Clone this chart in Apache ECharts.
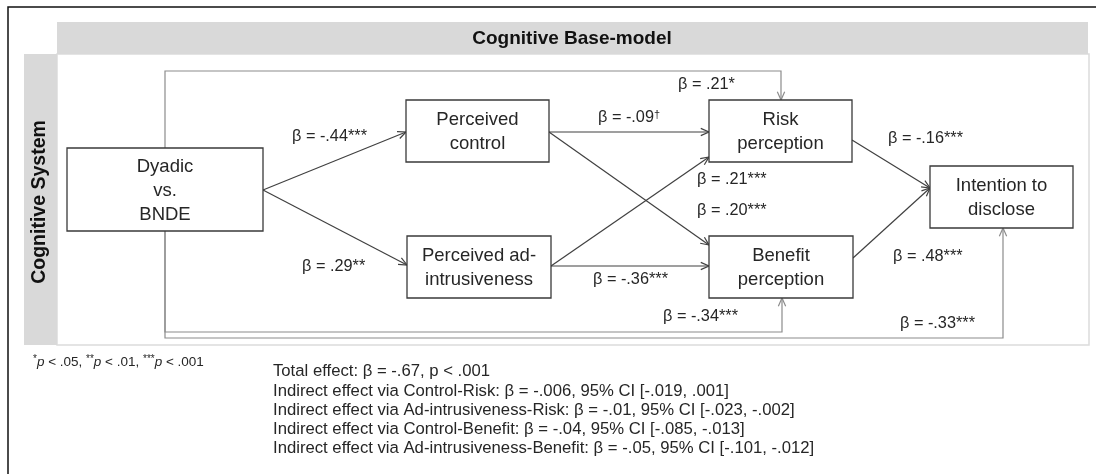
<!DOCTYPE html>
<html lang="en">
<head>
<meta charset="UTF-8">
<title>Cognitive Base-model</title>
<script src="https://cdn.jsdelivr.net/npm/echarts@6/dist/echarts.min.js"></script>
<style>
    html, body { margin: 0; padding: 0; background: #fff; }
    #main { width: 1096px; height: 474px; }
</style>
</head>
<body>
<div id="main"></div>
<script type="text/javascript">
    // node texts
    var nodeNames = ['Dyadic\nvs.\nBNDE', 'Perceived\ncontrol', 'Perceived ad-\nintrusiveness',
        'Risk\nperception', 'Benefit\nperception', 'Intention to\ndisclose'];
    // paths: from -> to, standardized coefficient
    var pathFrom = [0, 0, 1, 1, 2, 2, 3, 4, 0, 0, 0];
    var pathTo   = [1, 2, 3, 4, 3, 4, 5, 5, 3, 4, 5];
    var pathBeta = ['-.44***', '.29**', '-.09†', '.20***', '.21***', '-.36***',
        '-.16***', '.48***', '.21*', '-.34***', '-.33***'];
    var sigNote = ['*p < .05', '**p < .01', '***p < .001'];
    var effectLines = [
        'Total effect: β = -.67, p < .001',
        'Indirect effect via Control-Risk: β = -.006, 95% CI [-.019, .001]',
        'Indirect effect via Ad-intrusiveness-Risk: β = -.01, 95% CI [-.023, -.002]',
        'Indirect effect via Control-Benefit: β = -.04, 95% CI [-.085, -.013]',
        'Indirect effect via Ad-intrusiveness-Benefit: β = -.05, 95% CI [-.101, -.012]'
    ];

    // layout, in axis units (axes span the whole canvas)
    var boxPos = [[67, 148, 263, 231], [406, 100, 549, 162], [407, 236, 551, 298],
        [709, 100, 852, 162], [709, 236, 853, 298], [930, 166, 1073, 228]];
    var routes = [
        [[263, 190], [406, 132]],
        [[263, 190], [407, 265]],
        [[549, 132], [709, 132]],
        [[549, 132], [709, 245]],
        [[551, 266], [709, 157]],
        [[551, 266], [709, 266]],
        [[852, 140], [930, 188]],
        [[853, 258], [930, 188]],
        [[165, 148], [165, 71], [781, 71], [781, 100]],
        [[165, 231], [165, 332], [782, 332], [782, 298]],
        [[165, 231], [165, 338], [1003, 338], [1003, 228]]
    ];
    var labelPos = [[292, 137], [302, 267], [598, 118], [697, 211], [697, 180], [593, 280],
        [888, 139], [893, 257], [678, 85], [663, 317], [900, 324]];

    var FONT = '"Liberation Sans", Arial, sans-serif';
    var myChart = echarts.init(document.getElementById('main'));

    function renderBox(params, api) {
        var p0 = api.coord([api.value(0), api.value(1)]);
        var p1 = api.coord([api.value(2), api.value(3)]);
        return {
            type: 'group',
            children: [{
                type: 'rect',
                shape: {x: p0[0], y: p0[1], width: p1[0] - p0[0], height: p1[1] - p0[1]},
                style: {fill: '#fff', stroke: '#3a3a3a', lineWidth: 1.3}
            }, {
                type: 'text',
                x: (p0[0] + p1[0]) / 2,
                y: (p0[1] + p1[1]) / 2 + 1,
                style: {
                    text: nodeNames[params.dataIndex],
                    fontSize: 18.5, fontFamily: FONT, lineHeight: 24,
                    fill: '#262626', align: 'center', verticalAlign: 'middle'
                }
            }]
        };
    }

    function renderPath(params, api) {
        var i = params.dataIndex;
        var pts = routes[i].map(function (p) { return api.coord(p); });
        var a = pts[pts.length - 2], b = pts[pts.length - 1];
        var ang = Math.atan2(b[1] - a[1], b[0] - a[0]);
        var L = 9, w = 0.42;
        var head = [
            [b[0] - L * Math.cos(ang - w), b[1] - L * Math.sin(ang - w)],
            b,
            [b[0] - L * Math.cos(ang + w), b[1] - L * Math.sin(ang + w)]
        ];
        var col = routes[i].length > 2 ? '#8c8c8c' : '#404040';
        var lp = api.coord(labelPos[i]);
        var txt = 'β = ' + pathBeta[i].replace('†', '{s|†}');
        return {
            type: 'group',
            children: [{
                type: 'polyline',
                shape: {points: pts},
                style: {stroke: col, lineWidth: 1.2, fill: 'none'}
            }, {
                type: 'polyline',
                shape: {points: head},
                style: {stroke: col, lineWidth: 1.2, fill: 'none'}
            }, {
                type: 'text',
                x: lp[0],
                y: lp[1],
                style: {
                    text: txt,
                    fontSize: 16.3, fontFamily: FONT, fill: '#262626',
                    align: 'left', verticalAlign: 'middle',
                    rich: {s: {fontSize: 11, fontFamily: FONT, fill: '#262626', verticalAlign: 'top', lineHeight: 18}}
                }
            }]
        };
    }

    var noteText = sigNote.map(function (s) {
        return s.replace(/^(\*+)p(.*)$/, '{sup|$1}{it|p}{n|$2}');
    }).join('{n|, }');

    var option = {
        animation: false,
        grid: {left: 0, right: 0, top: 0, bottom: 0},
        xAxis: {type: 'value', min: 0, max: 1096, show: false},
        yAxis: {type: 'value', min: 0, max: 474, inverse: true, show: false},
        graphic: [
            // outer frame
            {type: 'rect', z: 0, shape: {x: 8, y: 7, width: 1100, height: 480},
                style: {fill: '#fff', stroke: '#111', lineWidth: 1.5}},
            // panel
            {type: 'rect', z: 0, shape: {x: 57, y: 54, width: 1032, height: 291},
                style: {fill: '#fff', stroke: '#dcdcdc', lineWidth: 1.5}},
            {type: 'rect', z: 0, shape: {x: 57, y: 22, width: 1031, height: 32},
                style: {fill: '#d9d9d9'}},
            {type: 'rect', z: 0, shape: {x: 24, y: 54, width: 33, height: 291},
                style: {fill: '#d9d9d9'}},
            {type: 'text', z: 1, x: 572, y: 39,
                style: {text: 'Cognitive Base-model', fontSize: 19, fontWeight: 'bold', fontFamily: FONT,
                    fill: '#111', align: 'center', verticalAlign: 'middle'}},
            {type: 'text', z: 1, x: 40, y: 202, rotation: Math.PI / 2,
                style: {text: 'Cognitive System', fontSize: 19.5, fontWeight: 'bold', fontFamily: FONT,
                    fill: '#111', align: 'center', verticalAlign: 'middle'}},
            // significance note
            {type: 'text', z: 1, x: 33, y: 362,
                style: {text: noteText, fontFamily: FONT, fill: '#262626', verticalAlign: 'middle',
                    rich: {
                        n: {fontSize: 13.5, fontFamily: FONT, fill: '#262626'},
                        it: {fontSize: 13.5, fontStyle: 'italic', fontFamily: FONT, fill: '#262626'},
                        sup: {fontSize: 10, fontFamily: FONT, fill: '#262626', verticalAlign: 'top', lineHeight: 15}
                    }}},
            // effects
            {type: 'text', z: 1, x: 273, y: 362,
                style: {text: effectLines.join('\n'), fontSize: 16.7, fontFamily: FONT, lineHeight: 19.3,
                    fill: '#262626', verticalAlign: 'top'}}
        ],
        series: [{
            type: 'custom',
            name: 'paths',
            z: 3,
            silent: true,
            renderItem: renderPath,
            encode: {x: 0, y: 1},
            data: pathBeta.map(function (b, i) { return [pathFrom[i], pathTo[i]]; })
        }, {
            type: 'custom',
            name: 'boxes',
            z: 4,
            silent: true,
            renderItem: renderBox,
            encode: {x: [0, 2], y: [1, 3]},
            data: boxPos
        }]
    };
    myChart.setOption(option);
</script>
</body>
</html>
